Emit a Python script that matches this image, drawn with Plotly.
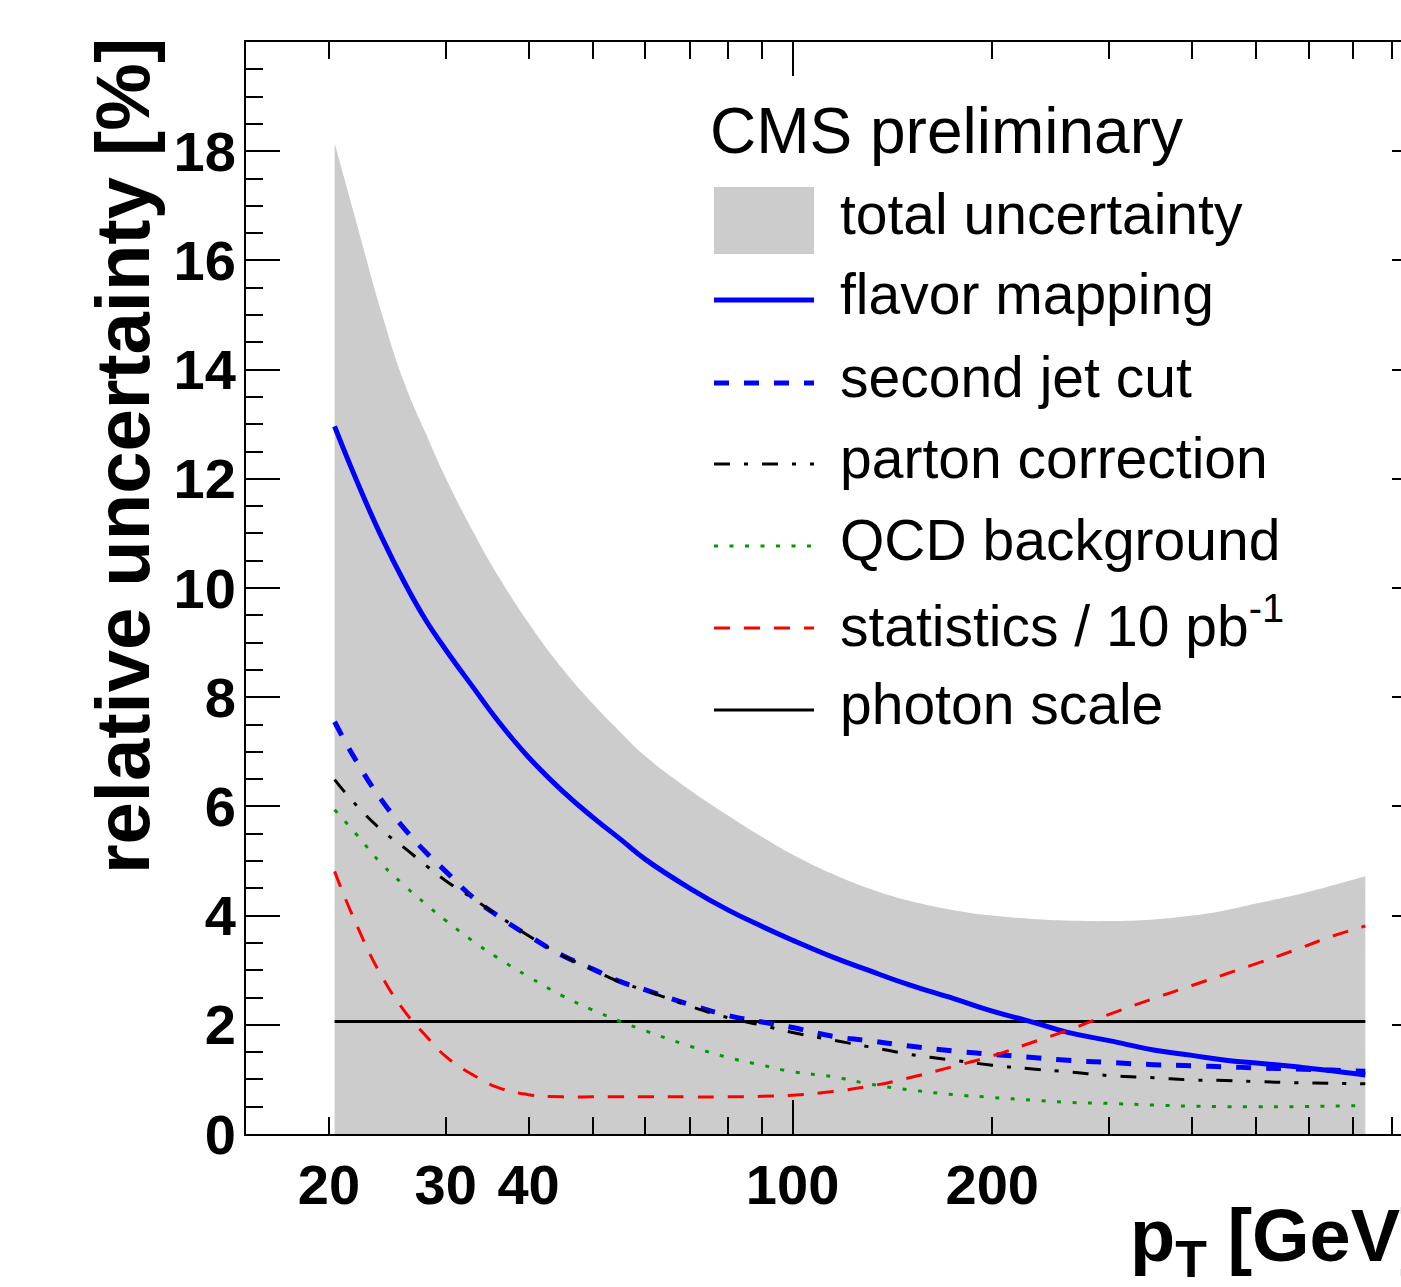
import math
import plotly.graph_objects as go

# ---------------- data ----------------
pt = [20.4, 22, 24, 26, 28, 30, 33, 36, 40, 45, 50, 55, 60, 70, 80, 90, 100,
      115, 130, 150, 175, 200, 230, 260, 300, 350, 400, 450, 500, 575, 650, 730]

total_unc = [18.15, 16.70, 15.05, 13.75, 12.83, 12.02, 11.03, 10.22, 9.36, 8.52, 7.88,
             7.36, 6.92, 6.30, 5.83, 5.44, 5.12, 4.76, 4.50, 4.27, 4.10, 4.00, 3.94,
             3.91, 3.90, 3.93, 4.00, 4.10, 4.22, 4.38, 4.55, 4.72]

flavor_mapping = [12.96, 11.98, 10.94, 10.10, 9.41, 8.87, 8.18, 7.56, 6.90, 6.28, 5.80,
                  5.40, 5.03, 4.50, 4.10, 3.80, 3.55, 3.24, 3.00, 2.73, 2.48, 2.25, 2.05,
                  1.86, 1.71, 1.54, 1.44, 1.35, 1.30, 1.23, 1.16, 1.08]

second_jet_cut = [7.55, 6.83, 6.12, 5.59, 5.16, 4.81, 4.33, 3.99, 3.63, 3.27, 3.02,
                  2.79, 2.64, 2.37, 2.17, 2.05, 1.95, 1.79, 1.71, 1.61, 1.52, 1.46, 1.40,
                  1.35, 1.31, 1.27, 1.25, 1.23, 1.21, 1.19, 1.17, 1.15]

parton_correction = [6.49, 6.02, 5.57, 5.24, 4.92, 4.64, 4.31, 4.00, 3.63, 3.27, 3.01,
                     2.78, 2.63, 2.34, 2.13, 1.99, 1.86, 1.72, 1.60, 1.46, 1.35, 1.26, 1.19,
                     1.14, 1.07, 1.03, 0.99, 0.98, 0.96, 0.94, 0.93, 0.92]

qcd_background = [5.94, 5.49, 4.95, 4.55, 4.21, 3.91, 3.53, 3.22, 2.88, 2.53, 2.27,
                  2.06, 1.89, 1.61, 1.40, 1.26, 1.14, 1.05, 0.92, 0.81, 0.72, 0.67, 0.62,
                  0.58, 0.56, 0.53, 0.51, 0.50, 0.50, 0.50, 0.51, 0.52]

statistics = [4.81, 3.84, 2.90, 2.25, 1.80, 1.42, 1.08, 0.85, 0.72, 0.68, 0.68,
              0.68, 0.68, 0.68, 0.68, 0.69, 0.71, 0.78, 0.87, 1.03, 1.24, 1.43, 1.68,
              1.90, 2.19, 2.48, 2.72, 2.93, 3.12, 3.38, 3.62, 3.81]

photon_pt = [20.4, 730]
photon_scale = [2.06, 2.06]

x_tickvals = [20, 30, 40, 50, 60, 70, 80, 90, 100, 200, 300, 400, 500, 600, 700, 800]
x_ticktext = ["20", "30", "40", " ", " ", " ", " ", " ", "100", "200", " ", " ", " ", " ", " ", " "]
x_decade = [100]
y_tickvals = [0, 2, 4, 6, 8, 10, 12, 14, 16, 18]

legend_labels = ["total uncertainty", "flavor mapping", "second jet cut",
                 "parton correction", "QCD background",
                 "statistics / 10 pb<sup>-1</sup>", "photon scale"]

# ---------------- layout geometry ----------------
W, H = 1401, 1287
L, T = 246, 42
B = 1134
PW = W - L
PH = B - T
X_LO = math.log10(15)
X_HI = X_LO + PW / 663.4

def px_x(p):
    return (p - L) / PW

def px_y(p):
    return (B - p) / PH

BLUE = "#0000ff"
RED = "#ff0000"
GREEN = "#009a00"
GREY = "#cccccc"
FONT = "Liberation Sans, Arial, Helvetica, sans-serif"

styles = {
    "flavor": dict(color=BLUE, width=5, dash="solid"),
    "second": dict(color=BLUE, width=5, dash="15px,15px"),
    "parton": dict(color="black", width=3, dash="16px,14px,4px,14px"),
    "qcd": dict(color=GREEN, width=3, dash="4px,11.5px"),
    "stat": dict(color=RED, width=3, dash="16px,14px"),
    "photon": dict(color="black", width=3, dash="solid"),
}

SMOOTH = 1.3

fig = go.Figure()

fig.add_trace(go.Scatter(x=pt, y=total_unc, mode="lines", fill="tozeroy",
                         fillcolor=GREY,
                         line=dict(width=0, color=GREY, shape="spline", smoothing=SMOOTH),
                         hoverinfo="skip", showlegend=False))
fig.add_trace(go.Scatter(x=photon_pt, y=photon_scale, mode="lines",
                         line=styles["photon"], showlegend=False))
for ys, key in [(flavor_mapping, "flavor"), (second_jet_cut, "second"),
                (parton_correction, "parton"), (qcd_background, "qcd"),
                (statistics, "stat")]:
    st = dict(styles[key])
    st.update(shape="spline", smoothing=SMOOTH)
    fig.add_trace(go.Scatter(x=pt, y=ys, mode="lines", line=st, showlegend=False))

# invisible helpers so the decoration axes are drawn
fig.add_trace(go.Scatter(x=photon_pt, y=photon_scale, xaxis="x2", yaxis="y", mode="lines",
                         opacity=0, hoverinfo="skip", showlegend=False))
fig.add_trace(go.Scatter(x=photon_pt, y=photon_scale, xaxis="x", yaxis="y2", mode="lines",
                         opacity=0, hoverinfo="skip", showlegend=False))

tickfont = dict(family=FONT, size=56, color="black", weight="bold")

fig.update_layout(
    width=W, height=H,
    margin=dict(l=L, r=0, t=T, b=H - B, pad=0),
    paper_bgcolor="white", plot_bgcolor="white",
    showlegend=False,
    xaxis=dict(type="log", range=[X_LO, X_HI], tickmode="array",
               tickvals=x_tickvals, ticktext=x_ticktext, tickangle=0,
               ticks="inside", ticklen=17, tickwidth=2, tickcolor="black",
               showline=True, linewidth=2, linecolor="black", mirror="ticks",
               showgrid=False, zeroline=False, tickfont=tickfont,
               ticklabelstandoff=1),
    xaxis2=dict(type="log", range=[X_LO, X_HI], overlaying="x", anchor="y", side="bottom",
                tickmode="array", tickvals=x_decade, ticks="inside", ticklen=34,
                tickwidth=2, tickcolor="black", mirror="ticks", showline=False,
                showticklabels=False, showgrid=False, zeroline=False),
    yaxis=dict(range=[0, 20], tickmode="array", tickvals=y_tickvals,
               ticks="inside", ticklen=34, tickwidth=2, tickcolor="black",
               minor=dict(tickmode="linear", tick0=0, dtick=0.5, ticks="inside",
                          ticklen=17, tickwidth=2, tickcolor="black"),
               showline=True, linewidth=2, linecolor="black", mirror=False,
               showgrid=False, zeroline=False, tickfont=tickfont,
               ticklabelstandoff=-3),
    yaxis2=dict(range=[0, 20], overlaying="y", side="right", anchor="x",
                tickmode="array", tickvals=y_tickvals, ticks="inside", ticklen=9,
                tickwidth=2, tickcolor="black", showticklabels=False,
                showline=False, showgrid=False, zeroline=False),
)

# axis titles
fig.add_annotation(xref="paper", yref="paper", x=px_x(122), y=px_y(456),
                   text="<b>relative uncertainty [%]</b>", textangle=-90,
                   showarrow=False, xanchor="center", yanchor="middle",
                   font=dict(family=FONT, size=76, color="black"))
fig.add_annotation(xref="paper", yref="paper", x=px_x(1128), y=px_y(1192),
                   text="<b>p<sub>T</sub> [GeV]</b>",
                   showarrow=False, xanchor="left", yanchor="top",
                   font=dict(family=FONT, size=74, color="black"))

# legend (drawn by hand to match the ROOT legend)
fig.add_annotation(xref="paper", yref="paper", x=px_x(708), y=px_y(131),
                   text="CMS preliminary", showarrow=False, xanchor="left",
                   yanchor="middle", font=dict(family=FONT, size=64, color="black"))
sym_y = [220, 300, 383, 464, 546, 628, 710]
sym_keys = ["box", "flavor", "second", "parton", "qcd", "stat", "photon"]
for lab, yy, key in zip(legend_labels, sym_y, sym_keys):
    if key == "box":
        fig.add_shape(type="rect", xref="paper", yref="paper",
                      x0=px_x(714), x1=px_x(814), y0=px_y(187), y1=px_y(254),
                      fillcolor=GREY, line=dict(width=0))
    else:
        fig.add_shape(type="line", xref="paper", yref="paper",
                      x0=px_x(714), x1=px_x(814), y0=px_y(yy), y1=px_y(yy),
                      line=styles[key])
    fig.add_annotation(xref="paper", yref="paper", x=px_x(838), y=px_y(yy - 6),
                       text=lab, showarrow=False, xanchor="left", yanchor="middle",
                       font=dict(family=FONT, size=57, color="black"))

fig.write_html("out.html")
